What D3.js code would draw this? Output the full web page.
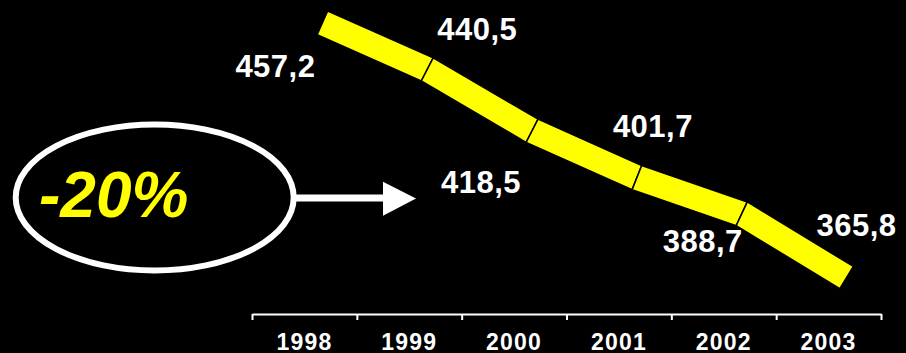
<!DOCTYPE html>
<html>
<head>
<meta charset="utf-8">
<script src="https://cdn.jsdelivr.net/npm/d3@7/dist/d3.min.js"></script>
<style>
  html, body { margin: 0; padding: 0; background: #000; }
  svg { display: block; }
  text { font-family: "Liberation Sans", Arial, sans-serif; font-weight: bold; }
</style>
</head>
<body>
<svg id="chart" width="906" height="353"></svg>
<script>
// Data
const years = ["1998", "1999", "2000", "2001", "2002", "2003"];
const values = [457.2, 440.5, 418.5, 401.7, 388.7, 365.8];
const valueLabels = ["457,2", "440,5", "418,5", "401,7", "388,7", "365,8"];
const changeLabel = "-20%";

// Label placement relative to each point (dx, dy to baseline)
const labelOffsets = [[-47, 54], [50, -29], [-51, 62], [16, -41], [-39, 38], [10, -41.5]];

const W = 906, H = 353;
const svg = d3.select("#chart");
svg.append("rect").attr("width", W).attr("height", H).attr("fill", "#000");

const axisLeft = 252, axisRight = 881, axisY = 314;
const depthX = 18; // ribbon sits slightly behind the axis plane

const x = d3.scaleBand().domain(years).range([axisLeft, axisRight]).padding(0);
const y = d3.scaleLinear().domain([350, 460]).range([321.6, 15.1]);

// Axis: line with ticks at category boundaries
const edge = d3.scaleLinear().domain([0, years.length]).range([axisLeft, axisRight]);
const axis = d3.axisBottom(edge)
  .tickValues(d3.range(years.length + 1))
  .tickFormat("")
  .tickSize(6)
  .tickSizeOuter(0);
const gAxis = svg.append("g").attr("transform", `translate(0,${axisY})`).call(axis);
gAxis.select(".domain").attr("stroke", "#fff").attr("stroke-width", 2);
gAxis.selectAll(".tick line").attr("stroke", "#fff").attr("stroke-width", 2);

svg.append("g").selectAll("text").data(years).join("text")
  .attr("x", d => x(d) + x.bandwidth() / 2)
  .attr("y", 349.5)
  .attr("text-anchor", "middle")
  .attr("fill", "#fff")
  .attr("font-size", 23)
  .attr("letter-spacing", 1.2)
  .text(d => d);

// Ribbon
const pts = years.map((yr, i) => [x(yr) + x.bandwidth() / 2 + depthX, y(values[i])]);
const half = 13;
const segNormals = [];
for (let i = 0; i < pts.length - 1; i++) {
  const dx = pts[i + 1][0] - pts[i][0], dy = pts[i + 1][1] - pts[i][1];
  const len = Math.hypot(dx, dy);
  segNormals.push([-dy / len, dx / len]);
}
const offs = pts.map((p, i) => {
  if (i === 0) return segNormals[0].map(v => v * half);
  if (i === pts.length - 1) return segNormals[i - 1].map(v => v * half);
  const a = segNormals[i - 1], b = segNormals[i];
  let m = [a[0] + b[0], a[1] + b[1]];
  const ml = Math.hypot(m[0], m[1]);
  m = [m[0] / ml, m[1] / ml];
  const cosHalf = m[0] * a[0] + m[1] * a[1];
  return [m[0] * half / cosHalf, m[1] * half / cosHalf];
});
const segs = d3.range(pts.length - 1).map(i => {
  const p = pts[i], q = pts[i + 1], o = offs[i], r = offs[i + 1];
  return [[p[0] + o[0], p[1] + o[1]], [q[0] + r[0], q[1] + r[1]],
          [q[0] - r[0], q[1] - r[1]], [p[0] - o[0], p[1] - o[1]]];
});
svg.append("g").selectAll("path").data(segs).join("path")
  .attr("d", d => d3.line()(d) + "Z")
  .attr("fill", "#ffff00")
  .attr("stroke", "#000")
  .attr("stroke-width", 1.5)
  .attr("stroke-linejoin", "miter");

// Value labels
svg.append("g").selectAll("text").data(valueLabels).join("text")
  .attr("x", (d, i) => pts[i][0] + labelOffsets[i][0])
  .attr("y", (d, i) => pts[i][1] + labelOffsets[i][1])
  .attr("text-anchor", "middle")
  .attr("fill", "#fff")
  .attr("font-size", 31)
  .attr("letter-spacing", 0.5)
  .text(d => d);

// Overall change callout
const cx = 154.7, cy = 197.5;
svg.append("ellipse")
  .attr("cx", cx).attr("cy", cy).attr("rx", 139).attr("ry", 73)
  .attr("fill", "none").attr("stroke", "#fff").attr("stroke-width", 6);
svg.append("text")
  .attr("x", 113.7).attr("y", 216.7)
  .attr("text-anchor", "middle")
  .attr("fill", "#ffff00")
  .attr("font-size", 64)
  .attr("font-style", "italic")
  .text(changeLabel);
svg.append("line")
  .attr("x1", cx + 139).attr("x2", 386).attr("y1", 198).attr("y2", 198)
  .attr("stroke", "#fff").attr("stroke-width", 7);
svg.append("path")
  .attr("d", d3.line()([[383, 181.7], [416, 198.5], [383, 215.7]]) + "Z")
  .attr("fill", "#fff");
</script>
</body>
</html>
